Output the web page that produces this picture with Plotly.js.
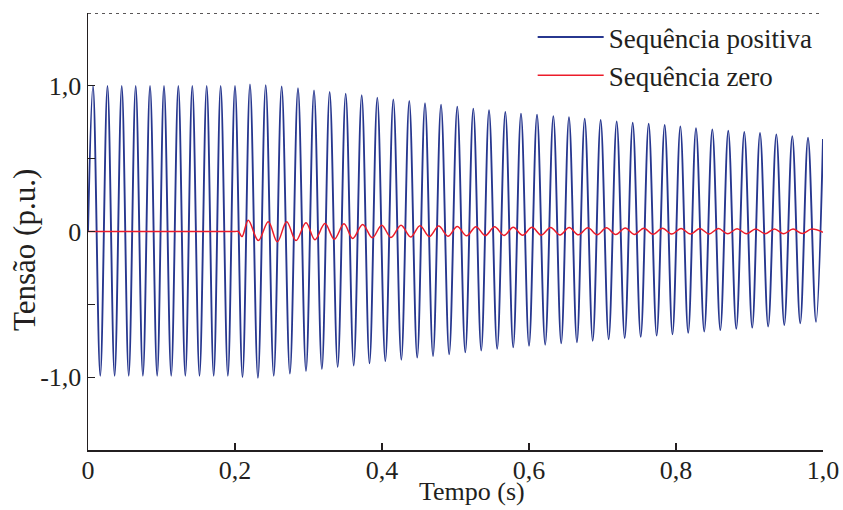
<!DOCTYPE html>
<html>
<head>
<meta charset="utf-8">
<script src="https://cdn.plot.ly/plotly-3.0.1.min.js"></script>
<style>html,body{margin:0;padding:0;background:#fff;}#chart{width:843px;height:510px;}</style>
</head>
<body>
<div id="chart"></div>
<script>
// ---- Data ----
// Positive sequence: extrema (peaks / troughs)
const posStartT = [0.0];
const posStartV = [0.0];
const posPeakT = [0.0068,0.0265,0.0459,0.0649,0.0844,0.1034,0.1229,0.1419,0.1615,0.1805,0.2000,
  0.2204,0.2418,0.2635,0.2857,0.3075,0.3288,0.3506,0.3724,0.3936,0.4154,0.4371,0.4585,0.4803,
  0.5024,0.5242,0.5456,0.5678,0.5891,0.6109,0.6331,0.6544,0.6758,0.6975,0.7193,0.7411,0.7628,
  0.7846,0.8059,0.8272,0.8494,0.8711,0.8929,0.9143,0.9365,0.9582,0.9796];
const posPeakV = [1.0,1.0,1.0,1.0,1.0,1.0,1.0,1.0,1.0,1.0,1.0,
  1.01,1.005,0.995,0.983,0.969,0.958,0.946,0.935,0.919,0.907,0.896,0.880,0.871,
  0.857,0.843,0.832,0.820,0.809,0.802,0.792,0.784,0.775,0.765,0.756,0.747,0.740,
  0.731,0.722,0.710,0.701,0.692,0.683,0.676,0.667,0.655,0.644];
const posTroughT = [0.0167,0.0362,0.0554,0.0747,0.0941,0.1132,0.1324,0.1517,0.1710,0.1903,
  0.2102,0.2312,0.2527,0.2747,0.2966,0.3182,0.3397,0.3615,0.3830,0.4045,0.4263,0.4479,0.4694,
  0.4914,0.5133,0.5350,0.5567,0.5785,0.6000,0.6220,0.6438,0.6652,0.6867,0.7084,0.7302,0.7520,
  0.7737,0.7952,0.8166,0.8384,0.8603,0.8820,0.9037,0.9254,0.9473,0.9690,0.9905];
const posTroughV = [-0.99,-0.99,-0.99,-0.99,-0.99,-0.99,-0.99,-0.99,-0.99,-0.99,
  -1.0,-1.005,-0.99,-0.975,-0.958,-0.945,-0.93,-0.92,-0.905,-0.89,-0.88,-0.866,-0.855,
  -0.843,-0.83,-0.817,-0.806,-0.795,-0.785,-0.777,-0.768,-0.76,-0.75,-0.74,-0.731,-0.723,
  -0.715,-0.706,-0.696,-0.686,-0.677,-0.668,-0.66,-0.652,-0.642,-0.63,-0.62];
const posEndT = [1.0];
const posEndV = [0.635];

// Zero sequence: flat part, first dip, then extrema
const zeroFlatT = [0.0, 0.05, 0.10, 0.15, 0.19, 0.2000, 0.2045, 0.2095];
const zeroFlatV = [0.0, 0.0, 0.0, 0.0, 0.0, 0.0, 0.0, -0.035];
const zeroPeakT = [0.2181,0.2453,0.2703,0.2966,0.3224,0.3483,0.3737,0.3996,0.4259,0.4517,
  0.4771,0.5024,0.5279,0.5532,0.5786,0.6041,0.6294,0.6547,0.6801,0.7054,0.7309,0.7562,
  0.7816,0.8069,0.8324,0.8577,0.8831,0.9084,0.9339,0.9592,0.9846];
const zeroPeakV = [0.078,0.067,0.067,0.060,0.055,0.053,0.048,0.043,0.043,0.040,
  0.037,0.035,0.033,0.032,0.030,0.029,0.028,0.027,0.026,0.025,0.024,0.023,
  0.022,0.021,0.020,0.020,0.019,0.018,0.018,0.017,0.017];
const zeroTroughT = [0.2317,0.2576,0.2830,0.3088,0.3351,0.3601,0.3868,0.4122,0.4390,0.4644,
  0.4898,0.5151,0.5405,0.5660,0.5913,0.6167,0.6422,0.6673,0.6928,0.7181,0.7435,0.7688,
  0.7943,0.8196,0.8450,0.8705,0.8958,0.9211,0.9465,0.9718];
const zeroTroughV = [-0.062,-0.071,-0.062,-0.057,-0.053,-0.048,-0.043,-0.041,-0.038,-0.034,
  -0.032,-0.030,-0.028,-0.027,-0.026,-0.025,-0.024,-0.023,-0.022,-0.021,-0.020,-0.019,
  -0.018,-0.018,-0.017,-0.016,-0.016,-0.015,-0.015,-0.014];
const zeroEndT = [1.0];
const zeroEndV = [-0.005];

const xTickVals = [0, 0.2, 0.4, 0.6, 0.8, 1.0];
const xTickText = ['0', '0,2', '0,4', '0,6', '0,8', '1,0'];
const yTickVals = [-1.0, -0.5, 0, 0.5, 1.0];
const yTickText = ['-1,0', '', '0', '', '1,0'];
const seriesNames = ['Sequência positiva', 'Sequência zero'];
const xTitle = 'Tempo (s)';
const yTitle = 'Tensão (p.u.)';

// ---- Build traces (merge read points in time order) ----
function merge(parts) {
  const pts = [];
  parts.forEach(([ts, vs]) => ts.forEach((t, i) => pts.push([t, vs[i]])));
  pts.sort((a, b) => a[0] - b[0]);
  return { x: pts.map(p => p[0]), y: pts.map(p => p[1]) };
}
const pos = merge([[posStartT, posStartV], [posPeakT, posPeakV], [posTroughT, posTroughV], [posEndT, posEndV]]);
const zero = merge([[zeroFlatT, zeroFlatV], [zeroPeakT, zeroPeakV], [zeroTroughT, zeroTroughV], [zeroEndT, zeroEndV]]);

const FONT = 'Liberation Serif, Times New Roman, serif';
const INK = '#231f20';
const traces = [
  { x: pos.x, y: pos.y, type: 'scatter', mode: 'lines', name: seriesNames[0],
    line: { color: '#27378f', width: 1.9, shape: 'spline', smoothing: 1 } },
  { x: zero.x, y: zero.y, type: 'scatter', mode: 'lines', name: seriesNames[1],
    line: { color: '#ec1c2a', width: 1.5, shape: 'spline', smoothing: 1 } }
];

const layout = {
  width: 843, height: 510,
  margin: { l: 88, r: 20, t: 13, b: 60 },
  paper_bgcolor: '#fff', plot_bgcolor: '#fff',
  font: { family: FONT, size: 26, color: INK },
  showlegend: true,
  legend: { x: 0.605, y: 1.0, xanchor: 'left', yanchor: 'top', bgcolor: 'rgba(0,0,0,0)',
    font: { family: FONT, size: 27, color: INK }, itemwidth: 66 },
  xaxis: {
    range: [0, 1.0], tickvals: xTickVals, ticktext: xTickText,
    ticks: 'inside', ticklen: 7, tickwidth: 1.3, tickcolor: INK,
    showline: true, linecolor: INK, linewidth: 1.5, mirror: false,
    showgrid: false, zeroline: false, ticklabelstandoff: -4,
    tickfont: { family: FONT, size: 26, color: INK }
  },
  yaxis: {
    range: [-1.5, 1.5], tickvals: yTickVals, ticktext: yTickText,
    ticks: 'inside', ticklen: 7, tickwidth: 1.3, tickcolor: INK,
    showline: true, linecolor: INK, linewidth: 1.5, mirror: false,
    showgrid: false, zeroline: false,
    tickfont: { family: FONT, size: 26, color: INK }
  },
  annotations: [
    { text: xTitle, xref: 'paper', yref: 'paper', x: 0.522, y: -0.0961,
      xanchor: 'center', yanchor: 'middle', showarrow: false, borderpad: 0,
      font: { family: FONT, size: 26, color: INK } },
    { text: yTitle, xref: 'paper', yref: 'paper', x: -0.0857, y: 0.4577,
      xanchor: 'center', yanchor: 'middle', showarrow: false, textangle: -90,
      font: { family: FONT, size: 31, color: INK } }
  ],
  shapes: [
    { type: 'line', xref: 'paper', yref: 'y', x0: 0, x1: 1, y0: 1.5, y1: 1.5,
      line: { color: INK, width: 1.5, dash: '3px,4px' } }
  ]
};

Plotly.newPlot('chart', traces, layout, { displayModeBar: false, staticPlot: true });
</script>
</body>
</html>
